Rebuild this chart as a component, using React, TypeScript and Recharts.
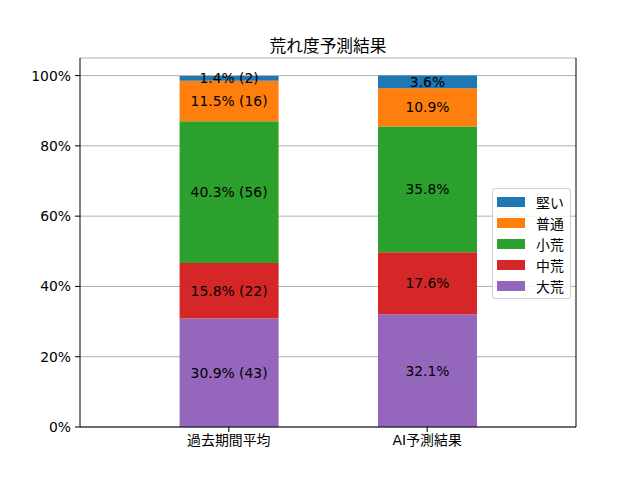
import React from 'react';
import { BarChart, Bar, XAxis, YAxis, CartesianGrid, LabelList } from 'recharts';

const categories = ['過去期間平均', 'AI予測結果'];

// bottom to top
const seriesNames = ['大荒', '中荒', '小荒', '普通', '堅い'];
const seriesColors = ['#9467bd', '#d62728', '#2ca02c', '#ff7f0e', '#1f77b4'];

const daiare = [30.9, 32.1];
const chuare = [15.8, 17.6];
const shoare = [40.3, 35.8];
const futsu = [11.5, 10.9];
const katai = [1.4, 3.6];

// race counts, only known for the past period
const daiareCount = [43, null];
const chuareCount = [22, null];
const shoareCount = [56, null];
const futsuCount = [16, null];
const kataiCount = [2, null];

const yTicks = [0, 20, 40, 60, 80, 100];

const seriesValues = [daiare, chuare, shoare, futsu, katai];
const seriesCounts = [daiareCount, chuareCount, shoareCount, futsuCount, kataiCount];

const data = categories.map((name, i) => {
  const row: Record<string, string | number> = { name };
  seriesNames.forEach((s, k) => {
    const v = seriesValues[k][i];
    const c = seriesCounts[k][i];
    row[s] = v;
    row[s + '_label'] = `${v.toFixed(1)}%` + (c != null ? ` (${c})` : '');
  });
  return row;
});

const FONT = '"DejaVu Sans", "Noto Sans CJK JP", sans-serif';

const LegendBox = () => (
  <div
    style={{
      position: 'absolute',
      left: 492,
      top: 188,
      border: '1px solid #d0d0d0',
      borderRadius: 3,
      background: 'rgba(255,255,255,0.8)',
      padding: '2px 6px 2px 4px',
      fontFamily: FONT,
      fontSize: 13.9,
      color: '#000',
    }}
  >
    {[...seriesNames].reverse().map((s) => {
      const color = seriesColors[seriesNames.indexOf(s)];
      return (
        <div key={s} style={{ display: 'flex', alignItems: 'center', height: 21 }}>
          <span style={{ display: 'inline-block', width: 28, height: 10, background: color, marginRight: 11 }} />
          <span>{s}</span>
        </div>
      );
    })}
  </div>
);

const App: React.FC = () => {
  return (
    <div style={{ position: 'absolute', left: 0, top: 0, width: 640, height: 480, background: '#fff' }}>
      <div
        style={{
          position: 'absolute',
          left: 80,
          width: 496,
          top: 33,
          textAlign: 'center',
          fontFamily: FONT,
          fontSize: 16.7,
          color: '#000',
        }}
      >
        荒れ度予測結果
      </div>
      <BarChart
        width={640}
        height={480}
        data={data}
        margin={{ top: 58, right: 63, left: 20, bottom: 23 }}
        barSize={99}
        style={{ fontFamily: FONT }}
      >
        <CartesianGrid horizontal vertical={false} stroke="#b0b0b0" strokeWidth={1} />
        <XAxis
          dataKey="name"
          padding={{ left: 49.6, right: 49.6 }}
          height={30}
          tickSize={5}
          tickMargin={3}
          axisLine={{ stroke: '#000' }}
          tickLine={{ stroke: '#000' }}
          tick={{ fill: '#000', fontSize: 13.9 }}
        />
        <XAxis xAxisId="top" orientation="top" dataKey="name" height={0} tick={false} tickLine={false} axisLine={{ stroke: '#000' }} />
        <YAxis
          type="number"
          domain={[0, 105]}
          ticks={yTicks}
          allowDataOverflow
          width={60}
          tickSize={5}
          tickMargin={4}
          tickFormatter={(v: number) => `${v}%`}
          axisLine={{ stroke: '#000' }}
          tickLine={{ stroke: '#000' }}
          tick={{ fill: '#000', fontSize: 13.9 }}
        />
        <YAxis
          yAxisId="right"
          orientation="right"
          type="number"
          dataKey="大荒"
          domain={[0, 105]}
          width={1}
          tick={false}
          tickLine={false}
          axisLine={{ stroke: '#000' }}
        />
        {seriesNames.map((s, k) => (
          <Bar key={s} dataKey={s} stackId="a" fill={seriesColors[k]} isAnimationActive={false}>
            <LabelList dataKey={s + '_label'} position="center" fill="#000" fontSize={13.9} />
          </Bar>
        ))}
      </BarChart>
      <LegendBox />
    </div>
  );
};

export default App;
